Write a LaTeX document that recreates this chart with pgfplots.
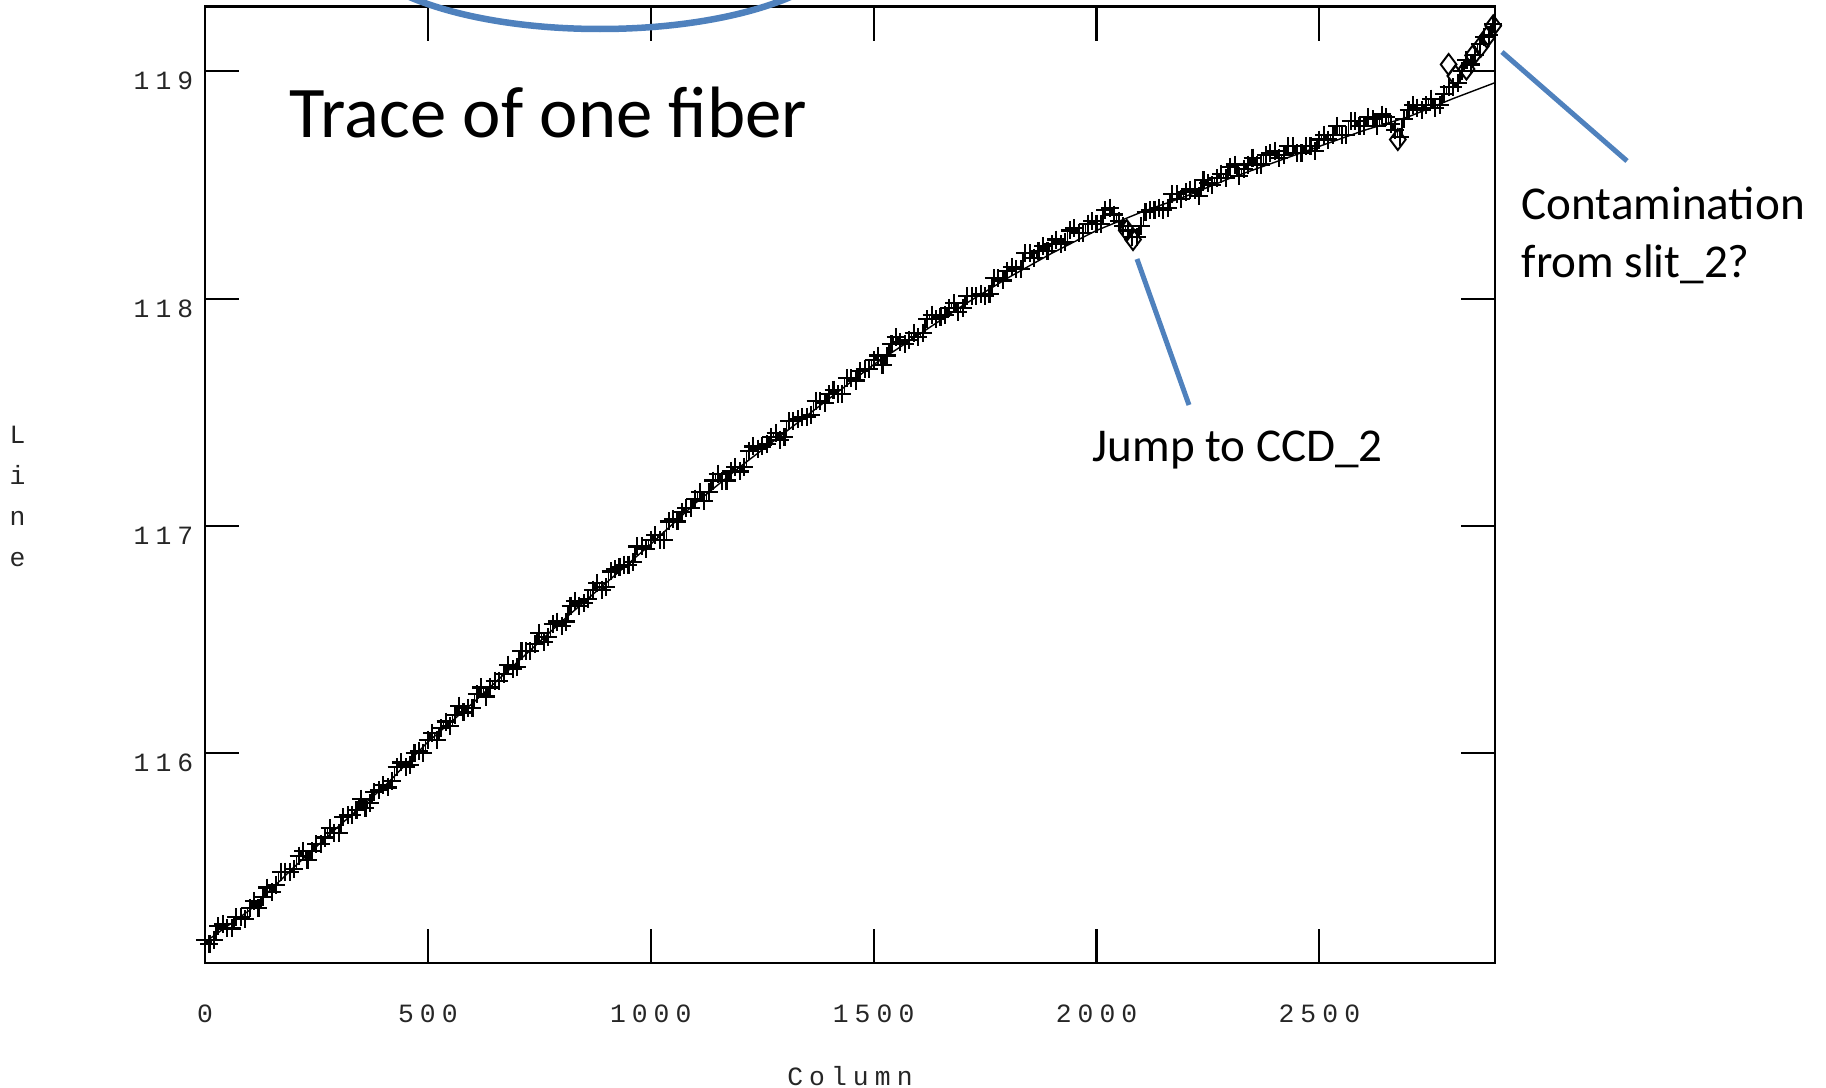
\documentclass[border=0pt]{standalone}
\usepackage{fontspec}
\setmainfont{Carlito}
\newfontfamily\tickfont[LetterSpace=23]{Liberation Mono}
\usepackage{pgfplots}
\usepackage{pgfplotstable}
\pgfplotsset{compat=1.18}
\definecolor{callout}{RGB}{79,129,189}

\pgfplotstableread{
col line
0 115.18
10 115.16
20 115.18
30 115.24
40 115.25
50 115.23
60 115.23
70 115.28
80 115.28
90 115.27
100 115.32
110 115.35
120 115.32
130 115.37
140 115.41
150 115.39
160 115.42
170 115.48
180 115.48
190 115.48
200 115.49
210 115.55
220 115.57
230 115.53
240 115.57
250 115.60
260 115.60
270 115.63
280 115.67
290 115.65
300 115.65
310 115.72
320 115.73
330 115.73
340 115.75
350 115.80
360 115.76
370 115.78
380 115.83
390 115.84
400 115.86
410 115.85
420 115.88
430 115.94
440 115.96
450 115.94
460 115.95
470 116.00
480 116.01
490 116.00
500 116.06
510 116.09
520 116.06
530 116.11
540 116.14
550 116.12
560 116.17
570 116.21
580 116.18
590 116.20
600 116.20
610 116.26
620 116.29
630 116.25
640 116.29
650 116.32
660 116.32
670 116.35
680 116.39
690 116.37
700 116.38
710 116.45
720 116.45
730 116.45
740 116.48
750 116.53
760 116.49
770 116.51
780 116.57
790 116.58
800 116.56
810 116.58
820 116.65
830 116.67
840 116.65
850 116.66
860 116.68
870 116.72
880 116.75
890 116.72
900 116.73
910 116.80
920 116.81
930 116.82
940 116.83
950 116.83
960 116.84
970 116.91
980 116.91
990 116.90
1000 116.94
1010 116.96
1020 116.94
1030 116.94
1040 117.02
1050 117.03
1060 117.02
1070 117.06
1080 117.08
1090 117.08
1100 117.12
1110 117.15
1120 117.11
1130 117.15
1140 117.20
1150 117.23
1160 117.20
1170 117.20
1180 117.24
1190 117.26
1200 117.24
1210 117.26
1220 117.33
1230 117.35
1240 117.34
1250 117.35
1260 117.36
1270 117.39
1280 117.41
1290 117.38
1300 117.39
1310 117.46
1320 117.46
1330 117.47
1340 117.48
1350 117.48
1360 117.49
1370 117.55
1380 117.55
1390 117.54
1400 117.58
1410 117.60
1420 117.58
1430 117.58
1440 117.65
1450 117.65
1460 117.64
1470 117.68
1480 117.69
1490 117.69
1500 117.73
1510 117.75
1520 117.71
1530 117.75
1540 117.80
1550 117.83
1560 117.81
1570 117.80
1580 117.82
1590 117.85
1600 117.83
1610 117.85
1620 117.91
1630 117.93
1640 117.91
1650 117.92
1660 117.93
1670 117.96
1680 117.98
1690 117.94
1700 117.96
1710 118.01
1720 118.01
1730 118.01
1740 118.02
1750 118.01
1760 118.02
1770 118.09
1780 118.09
1790 118.08
1800 118.12
1810 118.14
1820 118.13
1830 118.13
1840 118.20
1850 118.20
1860 118.18
1870 118.21
1880 118.23
1890 118.21
1900 118.24
1910 118.26
1920 118.24
1930 118.25
1940 118.30
1950 118.31
1960 118.29
1970 118.29
1980 118.33
1990 118.34
2000 118.33
2010 118.33
2020 118.39
2030 118.40
2040 118.37
2050 118.34
2060 118.32
2070 118.30
2080 118.27
2090 118.27
2100 118.32
2110 118.38
2120 118.39
2130 118.39
2140 118.40
2150 118.39
2160 118.40
2170 118.46
2180 118.46
2190 118.44
2200 118.47
2210 118.48
2220 118.48
2230 118.45
2240 118.52
2250 118.51
2260 118.50
2270 118.53
2280 118.55
2290 118.53
2300 118.58
2310 118.59
2320 118.54
2330 118.57
2340 118.59
2350 118.62
2360 118.59
2370 118.59
2380 118.63
2390 118.64
2400 118.65
2410 118.62
2420 118.63
2430 118.67
2440 118.67
2450 118.64
2460 118.64
2470 118.67
2480 118.67
2490 118.65
2500 118.70
2510 118.72
2520 118.70
2530 118.72
2540 118.76
2550 118.72
2560 118.72
2570 118.78
2580 118.78
2590 118.76
2600 118.76
2610 118.80
2620 118.79
2630 118.76
2640 118.81
2650 118.80
2660 118.77
2670 118.74
2680 118.71
2690 118.79
2700 118.83
2710 118.85
2720 118.84
2730 118.83
2740 118.85
2750 118.88
2760 118.84
2770 118.85
2780 118.90
2790 118.93
2800 118.93
2810 118.95
2820 119.00
2830 119.05
2840 119.03
2850 119.07
2860 119.12
2870 119.15
2880 119.16
2890 119.21
}\tracedata

\pgfplotstableread{
col line
0 115.17
100 115.31
200 115.50
300 115.68
400 115.85
500 116.05
600 116.22
700 116.40
800 116.58
900 116.75
1000 116.92
1100 117.10
1200 117.26
1300 117.41
1400 117.56
1500 117.71
1600 117.84
1700 117.97
1800 118.09
1900 118.20
2000 118.30
2100 118.38
2200 118.45
2300 118.53
2400 118.60
2500 118.67
2600 118.74
2700 118.80
2800 118.88
2894 118.95
}\fitdata

\pgfplotstableread{
col line
2068 118.30
2082 118.26
2676 118.70
2790 119.03
2805 118.98
2830 119.01
2845 119.07
2862 119.11
2876 119.15
2890 119.20
}\rejdata

\begin{document}
\begin{tikzpicture}
\path[use as bounding box] (-20.5mm,-12.4mm) rectangle (162.1mm,96.3mm);
\begin{axis}[
  at={(0mm,0mm)}, anchor=south west,
  scale only axis, width=129mm, height=95.65mm,
  xmin=0, xmax=2894, ymin=115.078, ymax=119.285,
  xtick={0,500,1000,1500,2000,2500},
  xticklabels={0,500,1000,1500,2000,2500},
  ytick={116,117,118,119},
  yticklabels={116,117,118,119},
  tick align=inside, major tick length=3.4mm,
  every tick/.style={black, line width=0.6pt},
  axis line style={line width=0.7pt},
  ticklabel style={font=\tickfont\fontsize{7.5}{9}\selectfont, text=black!85},
  xticklabel style={anchor=north, inner sep=0pt, yshift=-4.1mm},
  yticklabel style={anchor=north east, inner sep=0pt, xshift=-1.1mm},
  xlabel={Column},
  xlabel style={at={(axis description cs:0.5,0)}, anchor=north, inner sep=0pt, yshift=-10.3mm, font=\tickfont\fontsize{7.5}{9}\selectfont, text=black!85},
  ylabel={\begin{tabular}{@{}c@{}}L\\i\\n\\e\end{tabular}},
  ylabel style={rotate=-90, at={(axis description cs:-0.1453,0.487)}, anchor=center, inner sep=0pt, font=\tickfont\fontsize{7.5}{11.66}\selectfont, text=black!85},
]
\addplot[black, line width=0.4pt] table[x=col, y=line] {\fitdata};
\addplot[black, line width=0.45pt, const plot mark mid, mark=+, mark size=0.9mm, mark options={line width=0.6pt}] table[x=col, y=line] {\tracedata};
\addplot[only marks, black, mark=diamond, mark size=1.05mm, mark options={line width=0.55pt}] table[x=col, y=line] {\rejdata};
\end{axis}
\node[anchor=base west, inner sep=0pt, font=\fontsize{20.7}{24}\selectfont] at (8.4mm,82.6mm) {Trace of one fiber};
\node[anchor=base west, inner sep=0pt, font=\fontsize{13.4}{16.5}\selectfont] at (88.7mm,50.2mm) {Jump to CCD\_2};
\node[anchor=base west, inner sep=0pt, font=\fontsize{13.4}{16.5}\selectfont] at (131.6mm,74.4mm) {Contamination};
\node[anchor=base west, inner sep=0pt, font=\fontsize{13.4}{16.5}\selectfont] at (131.6mm,68.6mm) {from slit\_2?};
\draw[callout, line width=0.5mm] (93.2mm,70.4mm) -- (98.4mm,55.8mm);
\draw[callout, line width=0.5mm] (129.7mm,91.1mm) -- (142.2mm,80.2mm);
\draw[callout, line width=0.65mm] (39.5mm,102.3mm) ellipse [x radius=24.8mm, y radius=8.9mm];
\end{tikzpicture}
\end{document}
